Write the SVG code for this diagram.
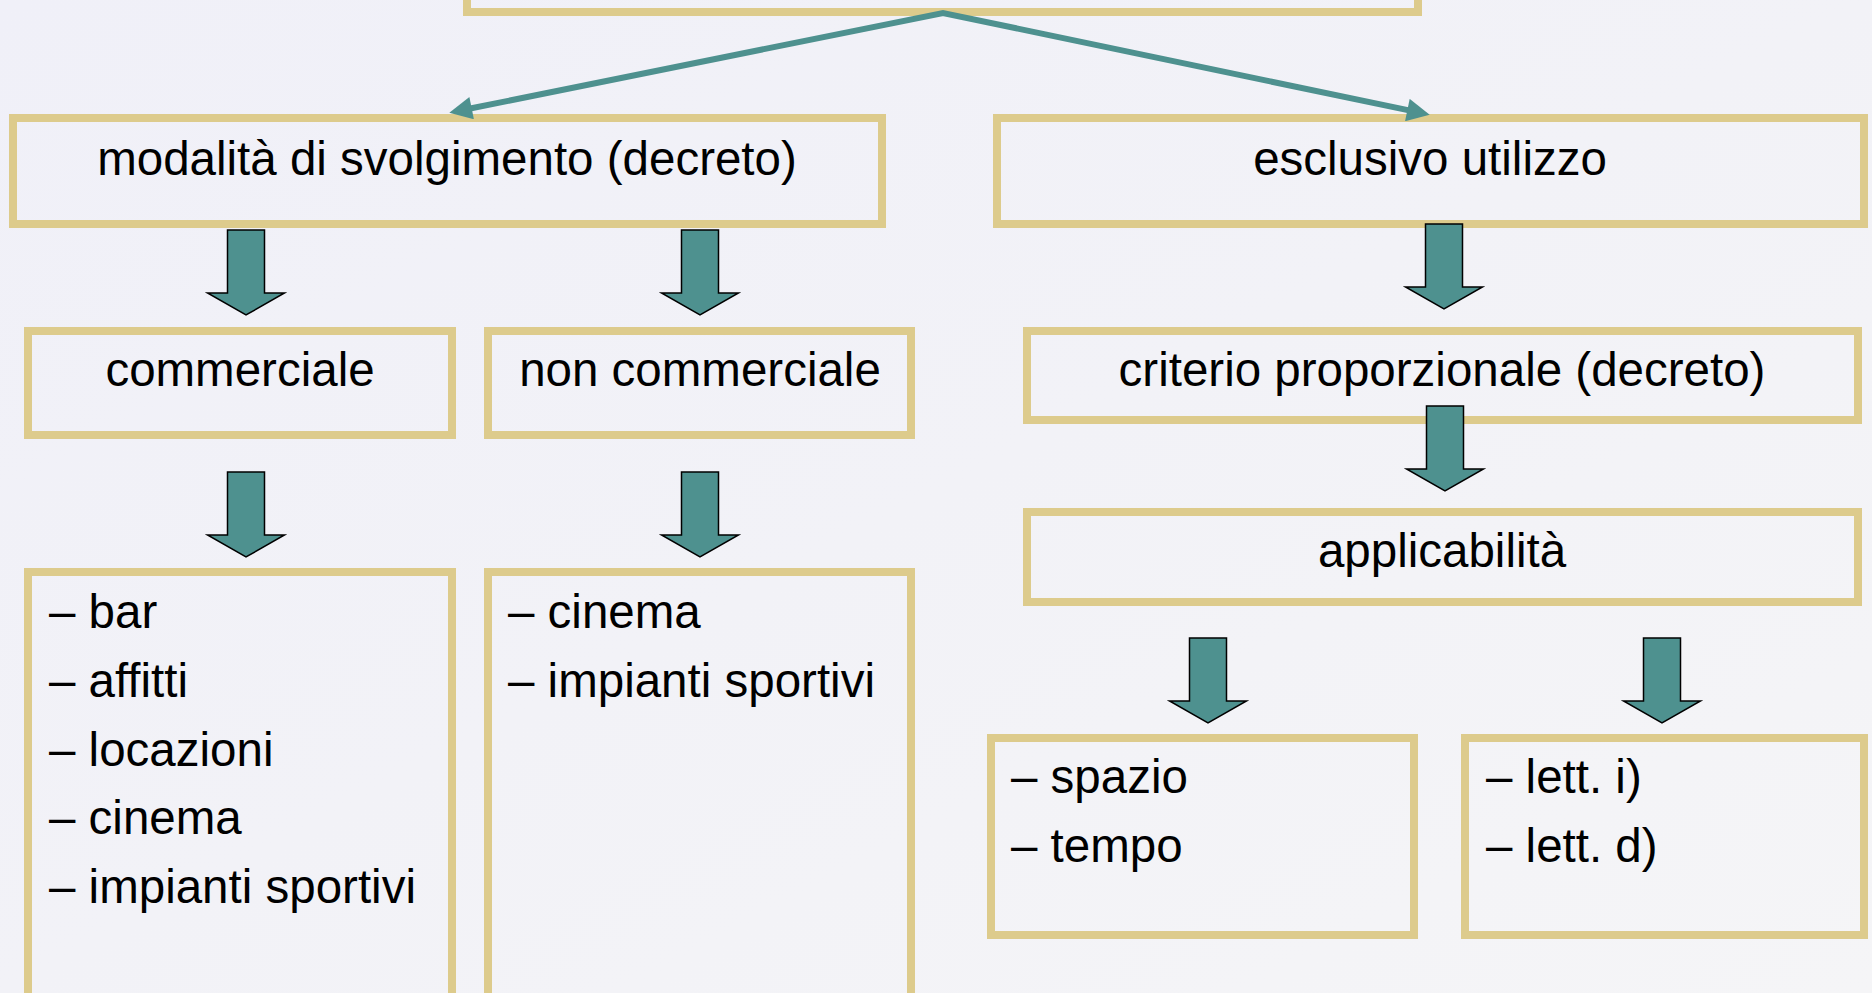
<svg xmlns="http://www.w3.org/2000/svg" xmlns:xlink="http://www.w3.org/1999/xlink" width="1872" height="993" viewBox="0 0 1872 993">
  <defs>
    <linearGradient id="bg" x1="0" y1="0" x2="1" y2="1">
      <stop offset="0" stop-color="#F0F0F8"/>
      <stop offset="0.5" stop-color="#F2F2F7"/>
      <stop offset="1" stop-color="#F5F5F7"/>
    </linearGradient>
    <marker id="ah" viewBox="0 0 10 10" refX="4" refY="5" markerWidth="4.4" markerHeight="3.8" orient="auto-start-reverse" markerUnits="strokeWidth">
      <path d="M0,0 L10,5 L0,10 Z" fill="#4E918F"/>
    </marker>
    <path id="blk" d="M-18.5,0 H18.5 V63 H38.5 L0,85 L-38.5,63 H-18.5 Z"/>
  </defs>
  <style>
    .box { fill: none; stroke: #DDCB8C; stroke-width: 8; }
    .t { font-family: "Liberation Sans", Arial, sans-serif; font-size: 47.5px; fill: #000; }
    .c { text-anchor: middle; }
    .conn { fill: none; stroke: #4E918F; stroke-width: 6; stroke-linejoin: miter; }
    .ba { fill: #4E918F; stroke: #000; stroke-width: 1.5; stroke-linejoin: miter; }
  </style>
  <rect x="0" y="0" width="1872" height="993" fill="url(#bg)"/>

  <g id="node-top">
    <rect class="box" x="467" y="-100" width="951" height="112"/>
  </g>
  <g id="node-modalita">
    <rect class="box" x="13" y="118" width="869" height="106"/>
    <text class="t c" x="447" y="175">modalità di svolgimento (decreto)</text>
  </g>
  <g id="node-esclusivo">
    <rect class="box" x="997" y="118" width="867" height="106"/>
    <text class="t c" x="1430" y="175">esclusivo utilizzo</text>
  </g>
  <g id="node-commerciale">
    <rect class="box" x="28" y="331" width="424" height="104"/>
    <text class="t c" x="240" y="386">commerciale</text>
  </g>
  <g id="node-noncommerciale">
    <rect class="box" x="488" y="331" width="423" height="104"/>
    <text class="t c" x="700" y="386">non commerciale</text>
  </g>
  <g id="node-list-commerciale">
    <rect class="box" x="28" y="572" width="424" height="500"/>
    <text class="t" x="49" y="628">– bar</text>
    <text class="t" x="49" y="697">– affitti</text>
    <text class="t" x="49" y="766">– locazioni</text>
    <text class="t" x="49" y="834">– cinema</text>
    <text class="t" x="49" y="903">– impianti sportivi</text>
  </g>
  <g id="node-list-noncommerciale">
    <rect class="box" x="488" y="572" width="423" height="500"/>
    <text class="t" x="508" y="628">– cinema</text>
    <text class="t" x="508" y="697">– impianti sportivi</text>
  </g>
  <g id="node-criterio">
    <rect class="box" x="1027" y="331" width="831" height="89"/>
    <text class="t c" x="1442" y="386">criterio proporzionale (decreto)</text>
  </g>
  <g id="node-applicabilita">
    <rect class="box" x="1027" y="512" width="831" height="90"/>
    <text class="t c" x="1442" y="567">applicabilità</text>
  </g>
  <g id="node-spazio">
    <rect class="box" x="991" y="738" width="423" height="197"/>
    <text class="t" x="1011" y="793">– spazio</text>
    <text class="t" x="1011" y="862">– tempo</text>
  </g>
  <g id="node-lett">
    <rect class="box" x="1465" y="738" width="399" height="197"/>
    <text class="t" x="1486" y="793">– lett. i)</text>
    <text class="t" x="1486" y="862">– lett. d)</text>
  </g>

  <g id="connectors">
    <path class="conn" d="M462.7,110 L943,13 L1416.3,111.9" marker-start="url(#ah)" marker-end="url(#ah)"/>
    <use xlink:href="#blk" class="ba" x="246" y="230"/>
    <use xlink:href="#blk" class="ba" x="700" y="230"/>
    <use xlink:href="#blk" class="ba" x="1444" y="224"/>
    <use xlink:href="#blk" class="ba" x="246" y="472"/>
    <use xlink:href="#blk" class="ba" x="700" y="472"/>
    <use xlink:href="#blk" class="ba" x="1445" y="406"/>
    <use xlink:href="#blk" class="ba" x="1208" y="638"/>
    <use xlink:href="#blk" class="ba" x="1662" y="638"/>
  </g>
</svg>
